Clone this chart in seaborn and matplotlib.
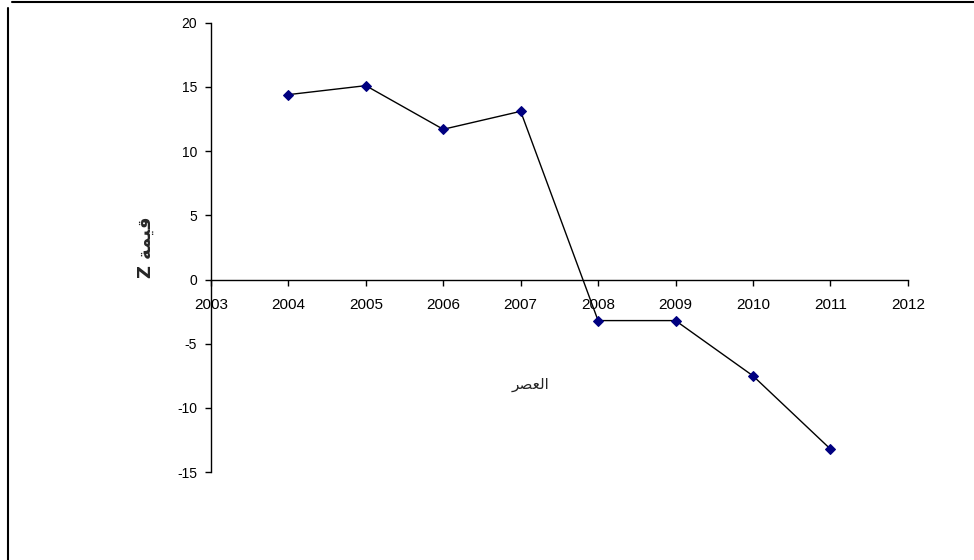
import matplotlib
matplotlib.use("Agg")
import matplotlib.pyplot as plt
import seaborn as sns
import pandas as pd
from matplotlib.lines import Line2D

# Z-score by year
years = [2004, 2005, 2006, 2007, 2008, 2009, 2010, 2011]
z_values = [14.4, 15.1, 11.7, 13.1, -3.2, -3.2, -7.5, -13.2]
x_ticks = list(range(2003, 2013))
y_ticks = [-15, -10, -5, 0, 5, 10, 15, 20]

# Arabic labels in visual (shaped, left-to-right) order
x_title = "\uFEAE\uFEBC\uFECC\uFEDF\uFE8D"          # العصر
y_title = "Z \uFE94\uFEE4\uFEF4\uFED7"              # قيمة Z

sns.set_theme(style="white")
plt.rcParams["font.family"] = ["Liberation Sans", "DejaVu Sans"]

df = pd.DataFrame({"year": years, "z": z_values})

fig = plt.figure(figsize=(9.74, 5.6), dpi=100)
ax = fig.add_axes([0.2166, 0.157, 0.7154, 0.8024])

sns.lineplot(data=df, x="year", y="z", ax=ax, color="black", linewidth=1.0,
             marker="D", markersize=5.5, markerfacecolor="#000080",
             markeredgecolor="#000080")

ax.set_xlim(2003, 2012)
ax.set_ylim(-15, 20)
ax.set_xticks(x_ticks)
ax.set_yticks(y_ticks)
ax.set_xticklabels([str(t) for t in x_ticks], fontsize=10)
ax.set_yticklabels([str(t) for t in y_ticks], fontsize=10)

for s in ["top", "right"]:
    ax.spines[s].set_visible(False)
ax.spines["bottom"].set_position(("data", 0))
ax.spines["left"].set_color("black")
ax.spines["bottom"].set_color("black")
ax.spines["left"].set_linewidth(1.0)
ax.spines["bottom"].set_linewidth(1.0)

ax.tick_params(axis="both", which="major", direction="out", length=4,
               width=1.0, color="black", labelcolor="black")
ax.tick_params(axis="x", bottom=True, pad=9)
ax.tick_params(axis="y", left=True, pad=6)

ax.set_xlabel(x_title, fontsize=11, family=["DejaVu Sans"])
ax.xaxis.set_label_coords(0.458, 0.194)
ax.xaxis.label.set_va("center")

ax.set_ylabel(y_title, fontsize=13, fontweight="bold", family=["DejaVu Sans"])
ax.yaxis.set_label_coords(-0.094, 0.5)
ax.yaxis.label.set_va("center")

# outer chart-area frame
fig.add_artist(Line2D([12 / 974, 1.0], [1 - 2 / 560, 1 - 2 / 560],
                      transform=fig.transFigure, color="black", linewidth=1.5))
fig.add_artist(Line2D([8 / 974, 8 / 974], [0.0, 1 - 8 / 560],
                      transform=fig.transFigure, color="black", linewidth=1.5))

fig.savefig("out.png", dpi=100)
